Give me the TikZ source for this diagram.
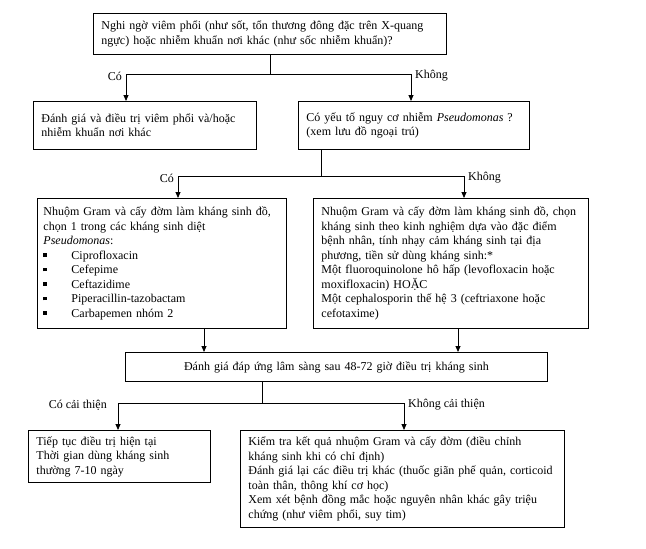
\documentclass[tikz,border=0pt]{standalone}
\usepackage{fontspec}
\setmainfont{Liberation Serif}
\usetikzlibrary{arrows.meta}

\newcommand{\itm}[1]{\makebox[28pt][l]{\rule[2.5pt]{3.5pt}{3.5pt}}#1}

\tikzset{
  box/.style={draw, line width=0.9pt, anchor=north west, align=left,
    inner xsep=8pt, inner ysep=0pt, font=\fontsize{12}{14.5}\selectfont},
  arr/.style={line width=0.8pt, -{Triangle[length=6pt,width=5pt]}},
  lbl/.style={font=\fontsize{12}{14.5}\selectfont, inner sep=0pt}
}

\begin{document}
\begin{tikzpicture}[x=1pt,y=-1pt]
\useasboundingbox (0,0) rectangle (646,549);

% Boxes
\node[box, text width=337pt, minimum height=41pt] (susp) at (93,13)
  {Nghi ngờ viêm phổi (như sốt, tổn thương đông đặc trên X-quang\\
   ngực) hoặc nhiễm khuẩn nơi khác (như sốc nhiễm khuẩn)?};
\node[box, text width=207pt, minimum height=48pt] (other) at (33,101)
  {Đánh giá và điều trị viêm phổi và/hoặc\\ nhiễm khuẩn nơi khác};
\node[box, text width=215pt, minimum height=48pt] (pseudo) at (298,101)
  {Có yếu tố nguy cơ nhiễm \textit{Pseudomonas} ?\\ (xem lưu đồ ngoại trú)};
\node[box, inner xsep=6pt, text width=237pt, minimum height=130pt] (antiP) at (37,198)
  {Nhuộm Gram và cấy đờm làm kháng sinh đồ,\\
   chọn 1 trong các kháng sinh diệt\\
   \textit{Pseudomonas}:\\
   \itm{Ciprofloxacin}\\
   \itm{Cefepime}\\
   \itm{Ceftazidime}\\
   \itm{Piperacillin-tazobactam}\\
   \itm{Carbapemen nhóm 2}};
\node[box, text width=259pt, minimum height=130pt] (empir) at (313,198)
  {Nhuộm Gram và cấy đờm làm kháng sinh đồ, chọn\\
   kháng sinh theo kinh nghiệm dựa vào đặc điểm\\
   bệnh nhân, tính nhạy cảm kháng sinh tại địa\\
   phương, tiền sử dùng kháng sinh:*\\
   Một fluoroquinolone hô hấp (levofloxacin hoặc\\
   moxifloxacin) HOẶC\\
   Một cephalosporin thế hệ 3 (ceftriaxone hoặc\\
   cefotaxime)};
\node[box, align=center, text width=406pt, minimum height=29pt] (resp) at (125,352)
  {Đánh giá đáp ứng lâm sàng sau 48-72 giờ điều trị kháng sinh};
\node[box, text width=166pt, minimum height=52pt] (cont) at (28,430)
  {Tiếp tục điều trị hiện tại\\
   Thời gian dùng kháng sinh\\
   thường 7-10 ngày};
\node[box, text width=308pt, minimum height=97pt] (recheck) at (240,430)
  {Kiểm tra kết quả nhuộm Gram và cấy đờm (điều chỉnh\\
   kháng sinh khi có chỉ định)\\
   Đánh giá lại các điều trị khác (thuốc giãn phế quản, corticoid\\
   toàn thân, thông khí cơ học)\\
   Xem xét bệnh đồng mắc hoặc nguyên nhân khác gây triệu\\
   chứng (như viêm phổi, suy tim)};

% Branch points
\coordinate (b1l) at (126,74);
\coordinate (b1r) at (411,74);
\coordinate (b2l) at (178,176);
\coordinate (b2r) at (464,176);
\coordinate (b3l) at (118,403);
\coordinate (b3r) at (404,403);

% Stems
\coordinate (s2) at ([xshift=23pt]pseudo.south west);
\coordinate (s3l) at ([xshift=167pt]antiP.south west);
\coordinate (s3r) at ([xshift=145pt]empir.south west);
\coordinate (s4) at ([xshift=137pt]resp.south west);

% Connectors
\draw[arr] (susp.south) |- (b1l) -- (b1l |- other.north);
\draw[arr] (susp.south) |- (b1r) -- (b1r |- pseudo.north);
\draw[arr] (s2) |- (b2l) -- (b2l |- antiP.north);
\draw[arr] (s2) |- (b2r) -- (b2r |- empir.north);
\draw[arr] (s3l) -- (s3l |- resp.north);
\draw[arr] (s3r) -- (s3r |- resp.north);
\draw[arr] (s4) |- (b3l) -- (b3l |- cont.north);
\draw[arr] (s4) |- (b3r) -- (b3r |- recheck.north);

% Labels
\node[lbl, anchor=east] (yes1) at ([xshift=-4pt,yshift=-2pt]b1l) {Có};
\node[lbl, anchor=west] (no1) at ([xshift=4pt,yshift=-2pt]b1r) {Không};
\node[lbl, anchor=east] (yes2) at ([xshift=-4pt,yshift=-2pt]b2l) {Có};
\node[lbl, anchor=west] (no2) at ([xshift=4pt,yshift=-2pt]b2r) {Không};
\node[lbl, anchor=east] (yes3) at ([xshift=-11pt,yshift=-2pt]b3l) {Có cải thiện};
\node[lbl, anchor=west] (no3) at ([xshift=4pt,yshift=-2pt]b3r) {Không cải thiện};

\end{tikzpicture}
\end{document}
